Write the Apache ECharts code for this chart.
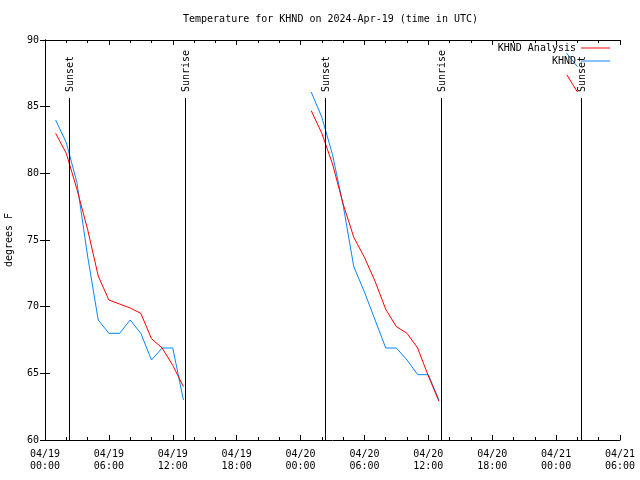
<!DOCTYPE html>
<html>
<head>
<meta charset="utf-8">
<script src="https://cdn.jsdelivr.net/npm/echarts@6/dist/echarts.min.js"></script>
<style>
html,body{margin:0;padding:0;background:#fff;}
#chart{width:640px;height:480px;}
</style>
</head>
<body>
<div id="chart"></div>
<script>
// Hours after 2024-04-19 00:00 UTC
var hours1 = [1, 2, 3, 4, 5, 6, 7, 8, 9, 10, 11, 12, 13];
var analysis1 = [83.0, 81.5, 78.8, 75.8, 72.3, 70.5, 70.2, 69.9, 69.5, 67.6, 66.9, 65.6, 64.0];
var obs1 = [84.0, 82.3, 79.3, 73.8, 69.0, 68.0, 68.0, 69.0, 68.0, 66.0, 66.9, 66.9, 63.0];

var hours2 = [25, 26, 27, 28, 29, 30, 31, 32, 33, 34, 35, 36, 37];
var analysis2 = [84.7, 83.0, 80.7, 77.7, 75.2, 73.7, 71.9, 69.8, 68.5, 68.0, 66.9, 64.8, 62.9];
var obs2 = [86.1, 84.2, 81.4, 77.6, 73.0, 71.1, 69.0, 66.9, 66.9, 66.0, 64.9, 64.9, 63.0];

var hours3 = [49, 50];
var analysis3 = [87.4, 86.1];
var obs3 = [89.0, 88.0];

var eventHours = [2.25, 13.15, 26.3, 37.2, 50.35];
var eventLabels = ['Sunset', 'Sunrise', 'Sunset', 'Sunrise', 'Sunset'];
var eventTop = 85.65;

var xTickLabels = ['04/19\n00:00', '04/19\n06:00', '04/19\n12:00', '04/19\n18:00', '04/20\n00:00',
                   '04/20\n06:00', '04/20\n12:00', '04/20\n18:00', '04/21\n00:00', '04/21\n06:00'];
var yTicks = [60, 65, 70, 75, 80, 85, 90];

function segs(list) {
  var out = [];
  list.forEach(function (s, k) {
    if (k > 0) out.push([s[0][0] - 1, '-']);
    for (var i = 0; i < s[0].length; i++) out.push([s[0][i], s[1][i]]);
  });
  return out;
}

var FONT = '"DejaVu Sans Mono", "Liberation Mono", monospace';
var chart = echarts.init(document.getElementById('chart'), null, {renderer: 'canvas'});

var axisCommon = {
  axisLine: {show: true, lineStyle: {color: '#000', width: 1}},
  axisTick: {show: true, inside: true, length: 5, lineStyle: {color: '#000'}},
  splitLine: {show: false}
};

var legendCommon = {
  right: 30, padding: 0, align: 'right', icon: 'rect', itemWidth: 29, itemHeight: 1,
  textStyle: {fontFamily: FONT, fontSize: 10, color: '#000'}
};

chart.setOption({
  backgroundColor: '#fff',
  animation: false,
  title: {
    text: 'Temperature for KHND on 2024-Apr-19 (time in UTC)',
    left: 183, top: 14, padding: 0,
    textStyle: {fontFamily: FONT, fontSize: 10, fontWeight: 'normal', color: '#000'}
  },
  legend: [
    Object.assign({}, legendCommon, {data: ['KHND Analysis'], top: 43}),
    Object.assign({}, legendCommon, {data: ['KHND'], top: 56})
  ],
  grid: {left: 45, right: 20, top: 40, bottom: 40, containLabel: false, outerBoundsMode: 'none'},
  xAxis: [
    Object.assign({}, axisCommon, {
      type: 'value', position: 'bottom', min: 0, max: 54, interval: 6,
      minorTick: {show: true, splitNumber: 3, length: 3, lineStyle: {color: '#000'}},
      axisLabel: {
        margin: 8, fontFamily: FONT, fontSize: 10, color: '#000', lineHeight: 12,
        formatter: function (v) { return xTickLabels[Math.round(v / 6)]; }
      }
    }),
    Object.assign({}, axisCommon, {
      type: 'value', position: 'top', min: 0, max: 54, interval: 6,
      minorTick: {show: true, splitNumber: 3, length: 3, lineStyle: {color: '#000'}},
      axisLabel: {show: false}
    })
  ],
  yAxis: [
    Object.assign({}, axisCommon, {
      type: 'value', position: 'left', min: yTicks[0], max: yTicks[yTicks.length - 1], interval: 5,
      name: 'degrees F', nameLocation: 'middle', nameRotate: 90, nameGap: 31,
      nameTextStyle: {fontFamily: FONT, fontSize: 10, color: '#000'},
      axisLabel: {margin: 6, fontFamily: FONT, fontSize: 10, color: '#000'}
    }),
    Object.assign({}, axisCommon, {
      type: 'value', position: 'right', min: yTicks[0], max: yTicks[yTicks.length - 1], interval: 5,
      axisLabel: {show: false}
    })
  ],
  series: [
    {
      name: 'KHND Analysis', type: 'line', symbol: 'none', connectNulls: false,
      lineStyle: {color: '#ff0000', width: 1}, itemStyle: {color: '#ff0000'},
      data: segs([[hours1, analysis1], [hours2, analysis2], [hours3, analysis3]]), z: 3
    },
    {
      name: 'KHND', type: 'line', symbol: 'none', connectNulls: false,
      lineStyle: {color: '#0a84ff', width: 1}, itemStyle: {color: '#0a84ff'},
      data: segs([[hours1, obs1], [hours2, obs2], [hours3, obs3]]), z: 2
    },
    {
      name: 'events', type: 'custom', z: 5, clip: false,
      data: eventHours.map(function (h) { return [h, eventTop]; }),
      renderItem: function (params, api) {
        var h = api.value(0);
        var b = api.coord([h, yTicks[0]]);
        var t = api.coord([h, api.value(1)]);
        var x = Math.round(b[0]) + 0.5;
        return {
          type: 'group',
          children: [
            {type: 'line', shape: {x1: x, y1: b[1], x2: x, y2: t[1]},
             style: {stroke: '#000', lineWidth: 1}},
            {type: 'text', x: x + 1, y: t[1] - 6, rotation: Math.PI / 2,
             style: {text: eventLabels[params.dataIndex], font: '10px ' + FONT, fill: '#000',
                     align: 'left', verticalAlign: 'middle'}}
          ]
        };
      }
    }
  ]
});
</script>
</body>
</html>
